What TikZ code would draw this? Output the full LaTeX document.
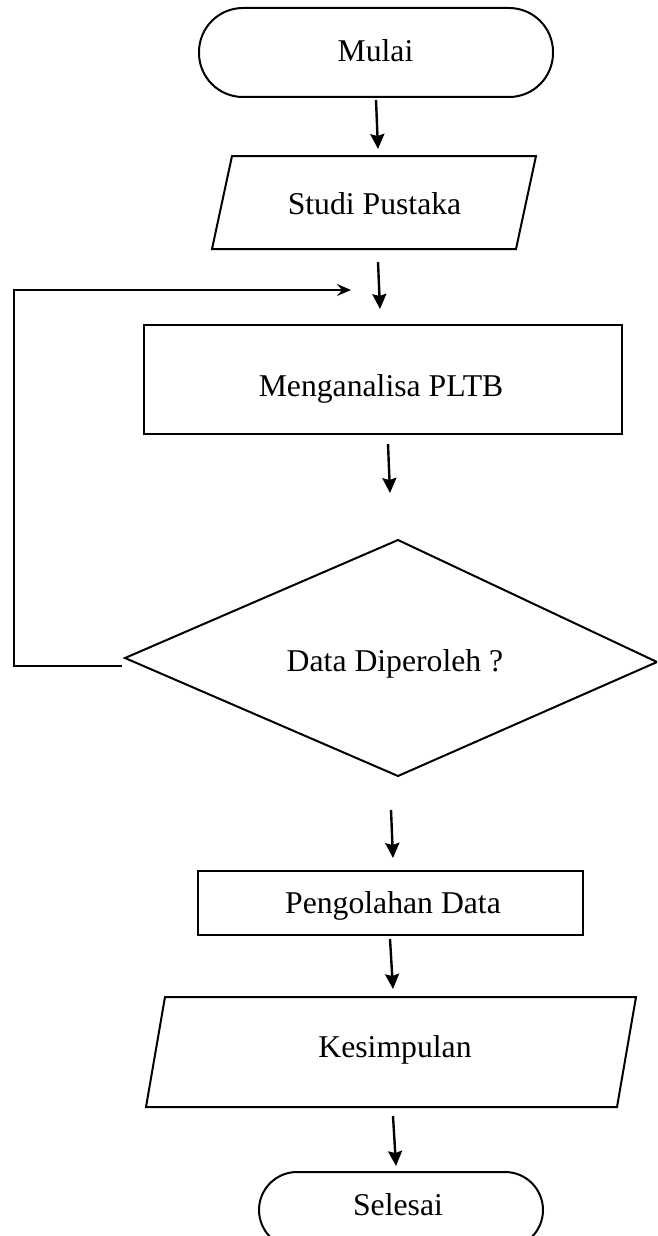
\documentclass[tikz,border=0pt]{standalone}
\usepackage{fontspec}
\setmainfont{Liberation Serif}
\usetikzlibrary{arrows.meta}
\tikzset{
  outline/.style={draw=black, line width=2pt, line join=miter},
  label/.style={inner sep=0pt, anchor=base, font=\fontsize{31.7}{38}\selectfont},
  flow/.style={line width=2.4pt, -{Stealth[length=15pt,width=14pt,inset=2pt]}},
  back/.style={line width=2pt, -{Stealth[length=14pt,width=12pt,inset=5pt]}}
}
\begin{document}
\begin{tikzpicture}[x=1pt,y=-1pt]
\useasboundingbox (0,0) rectangle (657,1236);
\clip (0,0) rectangle (657,1236);

% terminator: start
\draw[outline, rounded corners=44pt] (199,8) rectangle (553,97);
\node[label] (mulai) at (375.5,62) {Mulai};

% input: literature study
\draw[outline] (232,156) -- (536,156) -- (516,249) -- (212,249) -- cycle;
\node[label] (studi) at (374.5,214) {Studi Pustaka};

% process: analysis
\draw[outline] (144,325) rectangle (622,434);
\node[label] (analisa) at (381,396) {Menganalisa PLTB};

% decision
\draw[outline] (125,658) -- (398,540) -- (657,662) -- (398,776) -- cycle;
\node[label] (cek) at (395,671) {Data Diperoleh ?};

% process: data processing
\draw[outline] (198,871) rectangle (583,935);
\node[label] (olah) at (393,913) {Pengolahan Data};

% output: conclusion
\draw[outline] (165,997) -- (636,997) -- (617,1107) -- (146,1107) -- cycle;
\node[label] (simpul) at (395,1057) {Kesimpulan};

% terminator: end
\draw[outline, rounded corners=38pt] (259,1172) rectangle (543,1248);
\node[label] (selesai) at (398,1215) {Selesai};

% connector end points
\coordinate (a1s) at (376,100);  \coordinate (a1e) at (378,149);
\coordinate (a2s) at (378,262);  \coordinate (a2e) at (380,309);
\coordinate (a3s) at (388,444);  \coordinate (a3e) at (390,493);
\coordinate (a4s) at (391,810);  \coordinate (a4e) at (393,858);
\coordinate (a5s) at (390,939);  \coordinate (a5e) at (393,989);
\coordinate (a6s) at (393,1116); \coordinate (a6e) at (396,1166);

\draw[flow] (a1s) -- (a1e);
\draw[flow] (a2s) -- (a2e);
\draw[flow] (a3s) -- (a3e);
\draw[flow] (a4s) -- (a4e);
\draw[flow] (a5s) -- (a5e);
\draw[flow] (a6s) -- (a6e);

% loop back from the decision
\coordinate (l1) at (122,666);
\coordinate (l2) at (14,666);
\coordinate (l3) at (14,290);
\coordinate (l4) at (351,290);
\draw[back] (l1) -- (l2) -- (l3) -- (l4);
\end{tikzpicture}
\end{document}
